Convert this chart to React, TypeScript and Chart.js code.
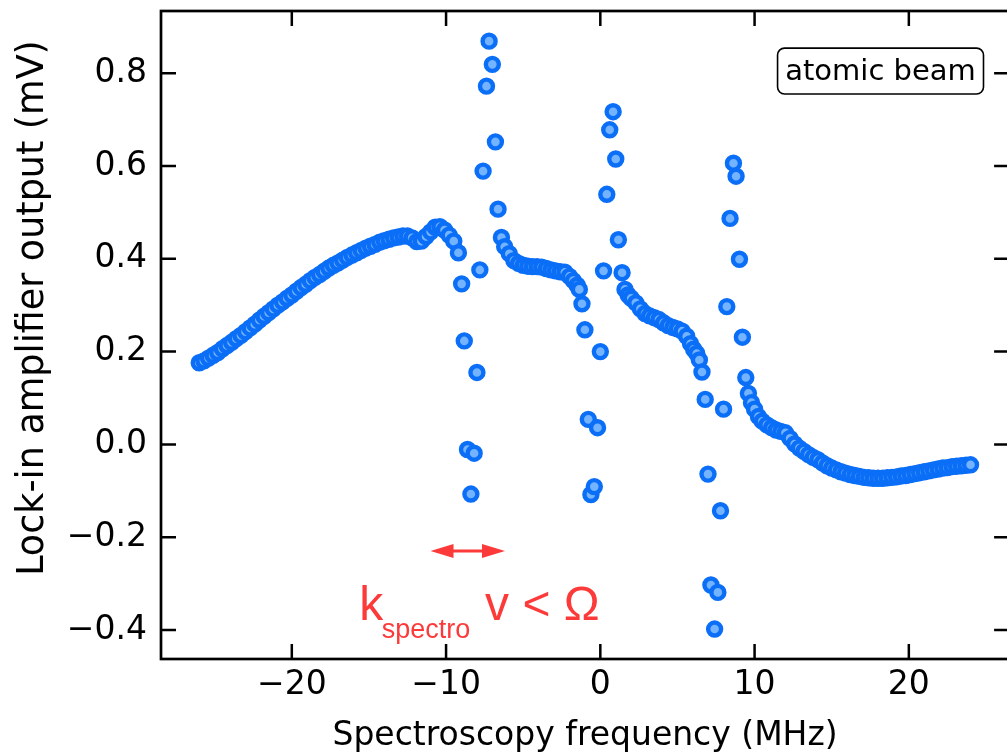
import React, { useEffect, useRef } from 'react';
import { Chart, registerables } from 'chart.js';

Chart.register(...registerables);

// ---- data ----
const riseFreq = [-26.0, -25.7, -25.4, -25.1, -24.8, -24.5, -24.2, -23.9, -23.6, -23.3, -23.0, -22.7, -22.4, -22.1, -21.8, -21.5, -21.2, -20.9, -20.6, -20.3, -20.0, -19.7, -19.4, -19.1, -18.8, -18.5, -18.2, -17.9, -17.6, -17.3, -17.0, -16.7, -16.4, -16.1, -15.8, -15.5, -15.2, -14.9, -14.6, -14.3, -14.0, -13.7, -13.4, -13.1, -12.8, -12.5, -12.2, -11.9, -11.6, -11.3, -11.0, -10.7, -10.4, -10.1, -9.8, -9.5, -9.2];
const riseSignal = [0.176, 0.180, 0.186, 0.192, 0.198, 0.206, 0.213, 0.220, 0.228, 0.235, 0.243, 0.251, 0.259, 0.268, 0.276, 0.284, 0.292, 0.300, 0.307, 0.315, 0.322, 0.330, 0.338, 0.345, 0.353, 0.360, 0.366, 0.373, 0.380, 0.386, 0.391, 0.397, 0.403, 0.408, 0.413, 0.418, 0.423, 0.427, 0.431, 0.436, 0.439, 0.442, 0.445, 0.447, 0.449, 0.449, 0.445, 0.437, 0.438, 0.448, 0.458, 0.468, 0.469, 0.462, 0.451, 0.438, 0.413];

const spike1Freq = [-8.99, -8.82, -8.61, -8.39, -8.18, -8.00, -7.81, -7.60, -7.38, -7.21, -7.00, -6.80, -6.63, -6.41];
const spike1Signal = [0.346, 0.223, -0.011, -0.107, -0.019, 0.155, 0.376, 0.589, 0.772, 0.869, 0.819, 0.652, 0.507, 0.446];

const plateauFreq = [-6.2, -5.9, -5.6, -5.3, -5.0, -4.7, -4.4, -4.1, -3.8, -3.5, -3.2, -2.9, -2.6, -2.3, -2.0, -1.75, -1.5, -1.36, -1.19];
const plateauSignal = [0.426, 0.411, 0.396, 0.390, 0.386, 0.384, 0.383, 0.383, 0.382, 0.379, 0.376, 0.374, 0.372, 0.371, 0.362, 0.353, 0.343, 0.334, 0.303];

const spike2Freq = [-1.0, -0.78, -0.61, -0.39, -0.18, 0.0, 0.21, 0.42, 0.61, 0.83, 1.0, 1.17, 1.41, 1.6];
const spike2Signal = [0.247, 0.054, -0.108, -0.091, 0.036, 0.200, 0.374, 0.539, 0.678, 0.717, 0.615, 0.441, 0.370, 0.334];

const slopeFreq = [1.8, 2.0, 2.3, 2.6, 2.9, 3.2, 3.5, 3.8, 4.1, 4.4, 4.7, 5.0, 5.3, 5.6, 5.85, 6.05, 6.25, 6.42, 6.59];
const slopeSignal = [0.322, 0.315, 0.305, 0.292, 0.282, 0.277, 0.273, 0.269, 0.262, 0.256, 0.252, 0.249, 0.244, 0.233, 0.217, 0.205, 0.196, 0.182, 0.156];

const spike3Freq = [6.80, 6.98, 7.17, 7.41, 7.62, 7.79, 7.99, 8.20, 8.41, 8.63, 8.80, 9.02, 9.21, 9.43, 9.60];
const spike3Signal = [0.097, -0.064, -0.303, -0.398, -0.319, -0.143, 0.076, 0.297, 0.487, 0.606, 0.578, 0.399, 0.231, 0.144, 0.110];

const tailFreq = [9.8, 10.0, 10.25, 10.5, 10.8, 11.1, 11.4, 11.7, 12.0, 12.3, 12.6, 12.9, 13.2, 13.5, 13.8, 14.1, 14.4, 14.7, 15.0, 15.3, 15.6, 15.9, 16.2, 16.5, 16.8, 17.1, 17.4, 17.7, 18.0, 18.3, 18.6, 18.9, 19.2, 19.5, 19.8, 20.1, 20.4, 20.7, 21.0, 21.3, 21.6, 21.9, 22.2, 22.5, 22.8, 23.1, 23.4, 23.7, 24.0];
const tailSignal = [0.090, 0.076, 0.060, 0.050, 0.042, 0.036, 0.031, 0.028, 0.025, 0.013, 0.001, -0.008, -0.015, -0.022, -0.028, -0.033, -0.040, -0.046, -0.051, -0.055, -0.059, -0.062, -0.065, -0.067, -0.069, -0.071, -0.072, -0.073, -0.073, -0.073, -0.072, -0.071, -0.070, -0.068, -0.067, -0.065, -0.063, -0.061, -0.059, -0.057, -0.055, -0.053, -0.051, -0.050, -0.048, -0.047, -0.046, -0.045, -0.044];

const xTicks = [-20, -10, 0, 10, 20];
const yTicks = [-0.4, -0.2, 0.0, 0.2, 0.4, 0.6, 0.8];

const X_TITLE = 'Spectroscopy frequency (MHz)';
const Y_TITLE = 'Lock-in amplifier output (mV)';
const BOX_LABEL = 'atomic beam';

const X_MIN = -28.48;
const X_MAX = 26.5;
const Y_MIN = -0.4625;
const Y_MAX = 0.934;

const fmt = (v: number, d: number) => (v < -1e-9 ? '\u2212' : '') + Math.abs(v).toFixed(d);

const FONT = 'DejaVu Sans';
const RED = '#fd3a3a';

export default function App() {
  const ref = useRef<HTMLCanvasElement>(null);

  useEffect(() => {
    const canvas = ref.current;
    if (!canvas) return;
    const freq = [...riseFreq, ...spike1Freq, ...plateauFreq, ...spike2Freq, ...slopeFreq, ...spike3Freq, ...tailFreq];
    const signal = [...riseSignal, ...spike1Signal, ...plateauSignal, ...spike2Signal, ...slopeSignal, ...spike3Signal, ...tailSignal];
    const points = freq.map((x, i) => ({ x, y: signal[i] }));

    const frame = {
      id: 'frame',
      afterDatasetsDraw(chart: any) {
        const { ctx, chartArea: a, scales } = chart;
        const sx = scales.x, sy = scales.y;
        ctx.save();
        // ticks on all four sides, pointing inward
        ctx.strokeStyle = '#000';
        ctx.lineWidth = 2.5;
        const L = 15;
        ctx.beginPath();
        xTicks.forEach((v) => {
          const p = sx.getPixelForValue(v);
          ctx.moveTo(p, a.bottom); ctx.lineTo(p, a.bottom - L);
          ctx.moveTo(p, a.top); ctx.lineTo(p, a.top + L);
        });
        yTicks.forEach((v) => {
          const p = sy.getPixelForValue(v);
          ctx.moveTo(a.left, p); ctx.lineTo(a.left + L, p);
          ctx.moveTo(a.right, p); ctx.lineTo(a.right - L, p);
        });
        ctx.stroke();
        ctx.lineWidth = 2.7;
        ctx.strokeRect(a.left, a.top, a.right - a.left, a.bottom - a.top);

        // y-axis title
        ctx.save();
        ctx.translate(34, 308);
        ctx.rotate(-Math.PI / 2);
        ctx.fillStyle = '#000';
        ctx.font = `36.5px "${FONT}"`;
        ctx.textAlign = 'center';
        ctx.textBaseline = 'middle';
        ctx.fillText(Y_TITLE, 0, 0);
        ctx.restore();

        // "atomic beam" box
        const bx0 = sx.getPixelForValue(11.49), bx1 = sx.getPixelForValue(24.84);
        const by0 = sy.getPixelForValue(0.854), by1 = sy.getPixelForValue(0.755);
        ctx.beginPath();
        ctx.roundRect(bx0, by0, bx1 - bx0, by1 - by0, 7);
        ctx.fillStyle = '#fff';
        ctx.fill();
        ctx.lineWidth = 1.6;
        ctx.strokeStyle = '#000';
        ctx.stroke();
        ctx.fillStyle = '#000';
        ctx.font = `29px "${FONT}"`;
        ctx.textAlign = 'center';
        ctx.textBaseline = 'middle';
        ctx.fillText(BOX_LABEL, (bx0 + bx1) / 2, (by0 + by1) / 2 + 1);

        // red double arrow
        const ax0 = sx.getPixelForValue(-11.01), ax1 = sx.getPixelForValue(-6.18);
        const ay = sy.getPixelForValue(-0.2297);
        const hl = 23, hw = 7;
        ctx.strokeStyle = RED;
        ctx.fillStyle = RED;
        ctx.lineWidth = 3;
        ctx.beginPath();
        ctx.moveTo(ax0 + hl - 2, ay); ctx.lineTo(ax1 - hl + 2, ay);
        ctx.stroke();
        ctx.beginPath();
        ctx.moveTo(ax0, ay); ctx.lineTo(ax0 + hl, ay - hw); ctx.lineTo(ax0 + hl, ay + hw); ctx.closePath();
        ctx.fill();
        ctx.beginPath();
        ctx.moveTo(ax1, ay); ctx.lineTo(ax1 - hl, ay - hw); ctx.lineTo(ax1 - hl, ay + hw); ctx.closePath();
        ctx.fill();

        // red label  k_spectro v < Ω
        ctx.textAlign = 'left';
        ctx.textBaseline = 'alphabetic';
        ctx.font = '48px "Liberation Sans"';
        ctx.fillText('k', sx.getPixelForValue(-15.63), sy.getPixelForValue(-0.378));
        ctx.fillText('v < \u03A9', sx.getPixelForValue(-7.47), sy.getPixelForValue(-0.378));
        ctx.font = '27px "Liberation Sans"';
        ctx.fillText('spectro', sx.getPixelForValue(-14.17), sy.getPixelForValue(-0.417));
        ctx.restore();
      },
    };

    const chart = new Chart(canvas, {
      type: 'scatter',
      data: {
        datasets: [
          {
            data: points,
            pointRadius: 6.5,
            pointHoverRadius: 6.5,
            borderWidth: 4.4,
            backgroundColor: '#73b3ff',
            borderColor: '#0a6ef7',
            showLine: false,
          },
        ],
      },
      options: {
        responsive: false,
        devicePixelRatio: 1,
        animation: false,
        events: [],
        layout: { padding: { top: 11, right: 6, bottom: 0, left: 0 } },
        plugins: { legend: { display: false }, tooltip: { enabled: false } },
        scales: {
          x: {
            type: 'linear',
            min: X_MIN,
            max: X_MAX,
            afterBuildTicks: (s: any) => { s.ticks = xTicks.map((v) => ({ value: v })); },
            afterFit: (s: any) => { s.height = 97; s.paddingLeft = 0; s.paddingRight = 0; },
            grid: { display: false, drawTicks: false },
            border: { display: false },
            ticks: {
              callback: (v: any) => fmt(Number(v), 0),
              font: { family: FONT, size: 33 },
              color: '#000',
              padding: 7,
              maxRotation: 0,
              autoSkip: false,
            },
            title: {
              display: true,
              text: X_TITLE,
              font: { family: FONT, size: 33 },
              color: '#000',
              padding: { top: 0, bottom: 0 },
            },
          },
          y: {
            type: 'linear',
            min: Y_MIN,
            max: Y_MAX,
            afterBuildTicks: (s: any) => { s.ticks = yTicks.map((v) => ({ value: v })); },
            afterFit: (s: any) => { s.width = 161; s.paddingTop = 0; s.paddingBottom = 0; },
            grid: { display: false, drawTicks: false },
            border: { display: false },
            ticks: {
              callback: (v: any) => fmt(Number(v), 1),
              font: { family: FONT, size: 33 },
              color: '#000',
              padding: 14,
              autoSkip: false,
            },
            title: { display: false, text: Y_TITLE },
          },
        },
      },
      plugins: [frame],
    });

    return () => chart.destroy();
  }, []);

  return (
    <div style={{ position: 'absolute', left: 0, top: 0, width: 1007, height: 756, overflow: 'hidden', background: '#fff' }}>
      <canvas ref={ref} width={1020} height={756} style={{ display: 'block', width: 1020, height: 756 }} />
    </div>
  );
}
